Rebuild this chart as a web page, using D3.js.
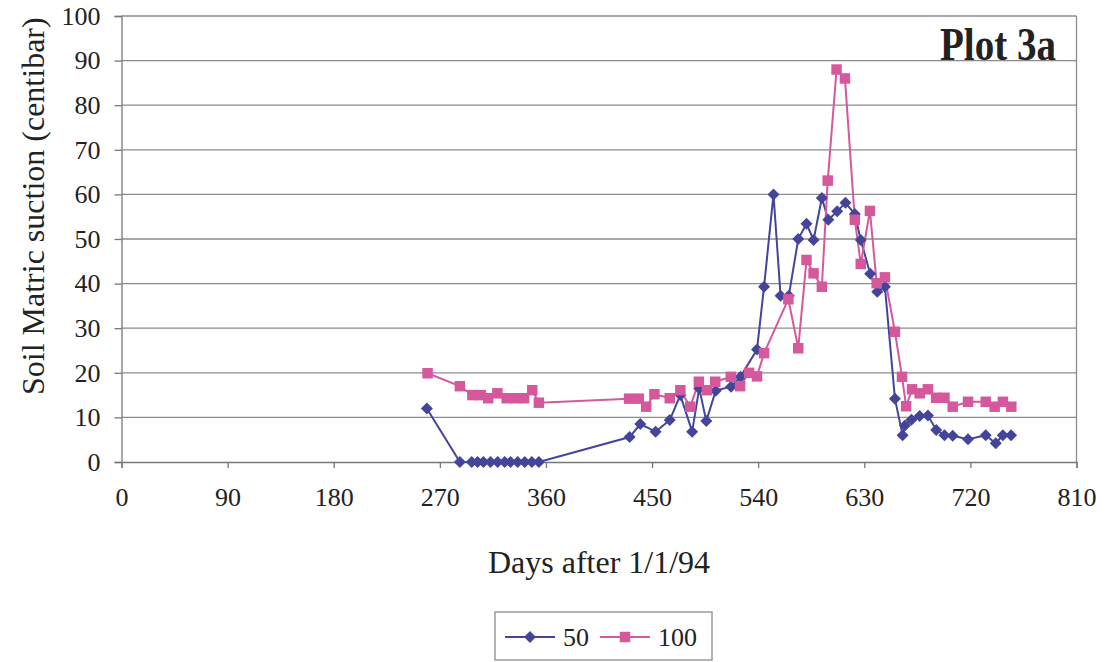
<!DOCTYPE html>
<html>
<head>
<meta charset="utf-8">
<script src="https://cdn.jsdelivr.net/npm/d3@7"></script>
<style>
  html, body { margin: 0; padding: 0; background: #fff; }
  svg { display: block; }
  svg text { font-family: "Liberation Serif", "Times New Roman", serif !important; fill: #222; }
</style>
</head>
<body>
<svg id="chart" width="1110" height="662"></svg>
<script>
// ---- data ----
const days50 = [259,287,297,302,307,313,319,325,330,336,342,348,354,431,440,453,465,474,484,490,496,504,517,525,539,545,553,559,566,574,581,587,594,599.5,607,614,622,627,635,641,647.5,656,662.5,664.5,670,677,684,691,698,705,718,733,741.5,747.5,754.5];
const vals50 = [12,0,0,0,0,0,0,0,0,0,0,0,0,5.6,8.5,6.8,9.4,15,6.8,16.5,9.2,16,16.9,19.1,25.2,39.3,60,37.3,37.3,50,53.4,49.8,59.2,54.3,56.2,58.1,55.6,49.8,42.2,38.2,39.3,14.2,6,8.2,9.5,10.3,10.4,7.2,6,5.9,5.1,6,4.2,6,6];
const days100 = [259.6,287,297.6,304.7,311,318.8,326.7,334.3,341.4,348.4,354,430.5,438.7,445,452,465,474,482.4,489.7,496.5,503.6,516.8,524.7,532.3,539,545,565.6,574,581,587,594,599,606.5,613.6,622,627,634.8,640.5,647.5,656,662,665.5,670.5,677,684,691,698,705,718,733,740.6,747.6,754.7];
const vals100 = [19.9,17,15,15,14.3,15.4,14.3,14.3,14.3,16.1,13.3,14.2,14.2,12.4,15.2,14.3,16.1,12.4,18,16.1,18,19.1,17,20,19.2,24.4,36.5,25.5,45.3,42.3,39.3,63.1,88,86,54.3,44.4,56.3,40.1,41.4,29.2,19.1,12.5,16.3,15.4,16.3,14.4,14.4,12.4,13.5,13.5,12.4,13.5,12.4];
const xTicks = [0,90,180,270,360,450,540,630,720,810];
const yTicks = [0,10,20,30,40,50,60,70,80,90,100];
const seriesNames = ["50","100"];
const colors = ["#44459a","#d6589c"];

const svg = d3.select("#chart");
const L = 121.5, R = 1076.5, T = 16, B = 462;
const x = d3.scaleLinear().domain([0,810]).range([L,R]);
const y = d3.scaleLinear().domain([0,100]).range([B,T]);

// gridlines
svg.append("g").selectAll("line").data(yTicks.filter(d=>d>0)).join("line")
  .attr("x1", L).attr("x2", R).attr("y1", d=>y(d)).attr("y2", d=>y(d))
  .attr("stroke", "#8c8c8c").attr("stroke-width", 1.3);
// right border
svg.append("line").attr("x1", R).attr("x2", R).attr("y1", T).attr("y2", B)
  .attr("stroke", "#8c8c8c").attr("stroke-width", 1.3);

// axes
const xAxis = d3.axisBottom(x).tickValues(xTicks).tickSize(6).tickPadding(20).tickFormat(d3.format("d"));
const gx = svg.append("g").attr("transform", `translate(0,${B})`).call(xAxis);
gx.attr("font-family", null);
gx.select(".domain").attr("stroke", "#777").attr("stroke-width", 1.3);
gx.selectAll(".tick line").attr("stroke", "#777").attr("stroke-width", 1.3);
gx.selectAll(".tick text").style("font-size", "26px").attr("fill", "#222");

const yAxis = d3.axisLeft(y).tickValues(yTicks).tickSize(7).tickPadding(14).tickFormat(d3.format("d"));
const gy = svg.append("g").attr("transform", `translate(${L},0)`).call(yAxis);
gy.attr("font-family", null);
gy.select(".domain").attr("stroke", "#777").attr("stroke-width", 1.3);
gy.selectAll(".tick line").attr("stroke", "#777").attr("stroke-width", 1.3);
gy.selectAll(".tick text").style("font-size", "26px").attr("fill", "#222");

// axis titles
svg.append("text").attr("x", (L+R)/2).attr("y", 573).attr("text-anchor", "middle")
  .attr("font-size", 32).text("Days after 1/1/94");
svg.append("text").attr("transform", `translate(44,395) rotate(-90)`).attr("text-anchor", "start")
  .attr("font-size", 32).text("Soil Matric suction (centibar)");

// plot label
svg.append("text").attr("x", 940).attr("y", 60).attr("font-size", 46).attr("font-weight", "bold")
  .attr("textLength", 116).attr("lengthAdjust", "spacingAndGlyphs").attr("fill", "#111").text("Plot 3a");

// series
const data = [d3.zip(days50, vals50), d3.zip(days100, vals100)];
const line = d3.line().x(d=>x(d[0])).y(d=>y(d[1]));
const diamond = d3.symbol().type(d3.symbolSquare).size(72);
const square = d3.symbol().type(d3.symbolSquare).size(110);

data.forEach((pts, i) => {
  svg.append("path").datum(pts).attr("d", line).attr("fill", "none")
    .attr("stroke", colors[i]).attr("stroke-width", 2);
});
data.forEach((pts, i) => {
  svg.append("g").selectAll("path").data(pts).join("path")
    .attr("transform", d=>`translate(${x(d[0])},${y(d[1])})` + (i === 0 ? " rotate(45)" : ""))
    .attr("d", i === 0 ? diamond : square)
    .attr("fill", colors[i]);
});

// legend
const lg = svg.append("g");
lg.append("rect").attr("x", 495).attr("y", 612).attr("width", 217).attr("height", 48)
  .attr("fill", "#fff").attr("stroke", "#8c8c8c").attr("stroke-width", 1.3);
const legendItems = [{x0: 505, tx: 563}, {x0: 600, tx: 658}];
legendItems.forEach((it, i) => {
  lg.append("line").attr("x1", it.x0).attr("x2", it.x0 + 50).attr("y1", 637).attr("y2", 637)
    .attr("stroke", colors[i]).attr("stroke-width", 2);
  lg.append("path").attr("transform", `translate(${it.x0+25},637)` + (i === 0 ? " rotate(45)" : ""))
    .attr("d", i === 0 ? diamond : square).attr("fill", colors[i]);
  lg.append("text").attr("x", it.tx).attr("y", 646).attr("font-size", 26).text(seriesNames[i]);
});
</script>
</body>
</html>
